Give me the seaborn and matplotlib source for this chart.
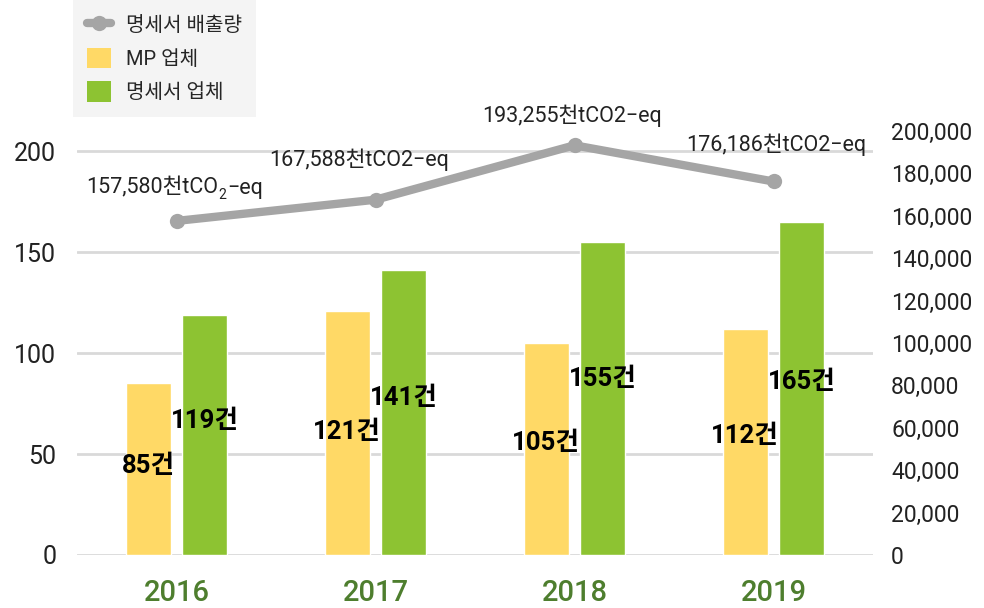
import numpy as np
import pandas as pd
import matplotlib
matplotlib.use('Agg')
import matplotlib.pyplot as plt
import seaborn as sns
from matplotlib.lines import Line2D
from matplotlib.patches import Patch

years = ['2016', '2017', '2018', '2019']
mp_counts = [85, 121, 105, 112]
report_counts = [119, 141, 155, 165]
emissions = [157580, 167588, 193255, 176186]
emission_labels = ['157,580천tCO2−eq', '167,588천tCO2−eq', '193,255천tCO2−eq', '176,186천tCO2−eq']
series_names = ['MP 업체', '명세서 업체']
line_name = '명세서 배출량'

yellow = '#FFD966'
green = '#8DC332'
gray = '#A5A5A5'
year_color = '#4E7E2E'

sns.set_style('white')
plt.rcParams['font.family'] = ['Roboto', 'Noto Sans CJK KR', 'DejaVu Sans']

df = pd.DataFrame({
    'year': years * 2,
    'count': mp_counts + report_counts,
    'group': [series_names[0]] * 4 + [series_names[1]] * 4,
})

fig = plt.figure(figsize=(9.84, 6.08), dpi=100)
ax = fig.add_axes([77 / 984, 53 / 608, 796 / 984, 424 / 608])

sns.barplot(data=df, x='year', y='count', hue='group', order=years,
            hue_order=series_names, palette=[yellow, green],
            width=0.572, gap=0.21, saturation=1, legend=False, ax=ax)

ax.set_xlim(-0.5, 3.5)
ax.set_ylim(0, 210)
ax.set_yticks([0, 50, 100, 150, 200])
ax.yaxis.grid(True, color='#D9D9D9', linewidth=2)
ax.set_axisbelow(True)
ax.set_xlabel('')
ax.set_ylabel('')
ax.tick_params(axis='y', labelsize=18, length=0, pad=15, labelcolor='#222222')
ax.tick_params(axis='x', length=0, pad=17)
for lbl in ax.get_xticklabels():
    lbl.set_fontsize(21)
    lbl.set_fontweight('medium')
    lbl.set_color(year_color)
for s in ax.spines.values():
    s.set_visible(False)

# bar value labels (small vertical nudges to sit like the original)
mp_nudge = [1.6, 0.4, 3.0, 2.9]
rep_nudge = [6.9, 7.3, 9.7, 3.2]
for i, (m, r) in enumerate(zip(mp_counts, report_counts)):
    ax.text(i - 0.143, m / 2 + mp_nudge[i], f'{m}건', ha='center', va='center',
            fontsize=18.5, fontweight='bold', color='black')
    ax.text(i + 0.143, r / 2 + rep_nudge[i], f'{r}건', ha='center', va='center',
            fontsize=18.5, fontweight='bold', color='black')

# emissions line on secondary axis
ax2 = ax.twinx()
sns.lineplot(x=np.arange(len(years)), y=emissions, color=gray, linewidth=6,
             marker='o', markersize=11, markeredgewidth=0, ax=ax2)
ax2.set_ylim(0, 200000)
ax2.set_yticks(np.arange(0, 200001, 20000))
ax2.yaxis.set_major_formatter(matplotlib.ticker.FuncFormatter(lambda v, p: f'{int(v):,}'))
ax2.tick_params(axis='y', labelsize=16.5, length=0, pad=13, labelcolor='#222222')
for s in ax2.spines.values():
    s.set_visible(False)

label_offsets = [(0, 16), (-12, 21), (-2, 13), (2, 18)]
lfs = 15.5
for i, (v, t) in enumerate(zip(emissions, emission_labels)):
    if i == 0:
        # first label has a real subscript in CO2
        head, tail = t.split('2−')
        t1 = ax2.annotate(head, (i, v), xytext=(label_offsets[i][0] + 30, label_offsets[i][1]),
                          textcoords='offset points', ha='right', va='bottom',
                          fontsize=lfs, color='#222222')
        t2 = ax2.annotate('2', (1, 0), xycoords=t1, xytext=(0.3, -2.5),
                          textcoords='offset points', ha='left', va='bottom',
                          fontsize=lfs * 0.65, color='#222222')
        ax2.annotate('−' + tail, (1, 0), xycoords=(t2, t1), xytext=(0.3, 0),
                     textcoords='offset points', ha='left', va='bottom',
                     fontsize=lfs, color='#222222')
    else:
        ax2.annotate(t, (i, v), xytext=label_offsets[i], textcoords='offset points',
                     ha='center', va='bottom', fontsize=lfs, color='#222222')

handles = [
    Line2D([0], [0], color=gray, linewidth=6, marker='o', markersize=11, markeredgewidth=0),
    Patch(facecolor=yellow, edgecolor='none'),
    Patch(facecolor=green, edgecolor='none'),
]
fig.legend(handles, [line_name] + series_names, loc='upper left',
           bbox_to_anchor=(73 / 984, 1.0), frameon=True, facecolor='#F2F2F2',
           edgecolor='none', fancybox=False, borderaxespad=0, fontsize=14.5,
           handlelength=1.2, handleheight=1.2, labelspacing=0.62,
           borderpad=0.7, handletextpad=0.75)

fig.savefig('out.png', dpi=100)
